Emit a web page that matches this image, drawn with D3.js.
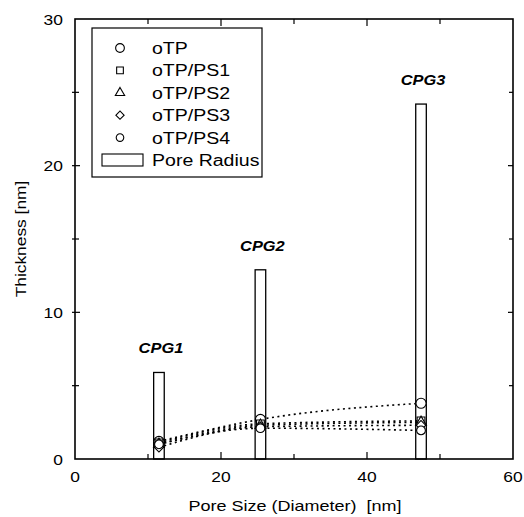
<!DOCTYPE html>
<html lang="en">
<head>
    <meta charset="UTF-8">
    <title>Thickness vs Pore Size</title>
    <script src="https://cdnjs.cloudflare.com/ajax/libs/d3/7.8.5/d3.min.js"></script>
    <style>
        body { margin: 0; background: #fff; }
        text { font-family: "Liberation Sans", Arial, sans-serif; fill: #000; }
        .series { fill: none; stroke: #000; stroke-width: 1.6px; stroke-dasharray: 2,3.5; }
        .mark { fill: #fff; stroke: #000; stroke-width: 1.1px; }
    </style>
</head>
<body>
    <div id="chart"></div>

    <script>
        // data
        const poreNames = ["CPG1", "CPG2", "CPG3"];
        const poreDiameter = [11.5, 25.4, 47.4];
        const poreRadius = [5.9, 12.9, 24.2];

        const seriesNames = ["oTP", "oTP/PS1", "oTP/PS2", "oTP/PS3", "oTP/PS4"];
        const oTP    = [1.2, 2.7, 3.8];
        const oTPPS1 = [1.1, 2.4, 2.6];
        const oTPPS2 = [1.0, 2.3, 2.5];
        const oTPPS3 = [0.8, 2.2, 2.3];
        const oTPPS4 = [1.0, 2.1, 1.95];
        const seriesValues = [oTP, oTPPS1, oTPPS2, oTPPS3, oTPPS4];
        // diamond = square turned 45 degrees
        const symbols = [d3.symbolCircle, d3.symbolSquare, d3.symbolTriangle, d3.symbolSquare, d3.symbolCircle];
        const symbolRot = [0, 0, 0, 45, 0];
        const symbolSizes = [80, 60, 50, 45, 60];

        const xTicks = [0, 20, 40, 60];
        const yTicks = [0, 10, 20, 30];

        const width = 524, height = 517;
        const margin = { left: 75, right: 11, top: 19, bottom: 58 };

        const svg = d3.select("#chart").append("svg")
            .attr("width", width)
            .attr("height", height);

        // the scanned figure is a bit wider than tall, so text gets stretched sideways
        function stretch(sel, f) {
            sel.each(function() {
                const w = this.getComputedTextLength();
                d3.select(this).attr("textLength", w * f).attr("lengthAdjust", "spacingAndGlyphs");
            });
        }

        const x = d3.scaleLinear().domain([0, 60]).range([margin.left, width - margin.right]);
        const y = d3.scaleLinear().domain([0, 30]).range([height - margin.bottom, margin.top]);
        const barW = x(1.45) - x(0);

        // pore radius bars
        svg.selectAll(".bar")
            .data(poreDiameter)
            .enter().append("rect")
            .attr("x", d => x(d) - barW / 2)
            .attr("y", (d, i) => y(poreRadius[i]))
            .attr("width", barW)
            .attr("height", (d, i) => y(0) - y(poreRadius[i]))
            .attr("fill", "#fff")
            .attr("stroke", "#000")
            .attr("stroke-width", 1.3);

        // CPG labels
        svg.selectAll(".cpg")
            .data(poreNames)
            .enter().append("text")
            .attr("x", (d, i) => x(poreDiameter[i]) + 2)
            .attr("y", (d, i) => y(poreRadius[i]) - 19)
            .attr("text-anchor", "middle")
            .style("font-size", "14.5px")
            .style("font-weight", "bold")
            .style("font-style", "italic")
            .text(d => d)
            .call(stretch, 1.13);

        // dotted lines
        const line = d3.line()
            .x((d, i) => x(poreDiameter[i]))
            .y(d => y(d))
            .curve(d3.curveMonotoneX);

        svg.selectAll(".series")
            .data(seriesValues)
            .enter().append("path")
            .attr("class", "series")
            .attr("d", line);

        // markers
        seriesValues.forEach(function(vals, s) {
            svg.selectAll(".m" + s)
                .data(vals)
                .enter().append("path")
                .attr("class", "mark")
                .attr("transform", (d, i) => "translate(" + x(poreDiameter[i]) + "," + y(d) + ") rotate(" + symbolRot[s] + ")")
                .attr("d", d3.symbol().type(symbols[s]).size(symbolSizes[s]));
        });

        // frame, ticks pointing inward
        const x0 = x(0), x1 = x(60), y0 = y(0), y1 = y(30);
        svg.append("rect")
            .attr("x", x0).attr("y", y1)
            .attr("width", x1 - x0).attr("height", y0 - y1)
            .attr("fill", "none").attr("stroke", "#000").attr("stroke-width", 1.6);

        const xMajor = xTicks.slice(1, -1), xMinor = [10, 30, 50];
        const yMajor = yTicks.slice(1, -1), yMinor = [5, 15, 25];

        function tickLines(vals, len, horizontal) {
            vals.forEach(function(v) {
                if (horizontal) {
                    svg.append("line").attr("x1", x(v)).attr("x2", x(v)).attr("y1", y0).attr("y2", y0 - len).attr("stroke", "#000").attr("stroke-width", 1.2);
                    svg.append("line").attr("x1", x(v)).attr("x2", x(v)).attr("y1", y1).attr("y2", y1 + len).attr("stroke", "#000").attr("stroke-width", 1.2);
                } else {
                    svg.append("line").attr("y1", y(v)).attr("y2", y(v)).attr("x1", x0 - 3).attr("x2", x0 + len).attr("stroke", "#000").attr("stroke-width", 1.2);
                    svg.append("line").attr("y1", y(v)).attr("y2", y(v)).attr("x1", x1).attr("x2", x1 - len).attr("stroke", "#000").attr("stroke-width", 1.2);
                }
            });
        }
        tickLines(xMajor, 7, true);
        tickLines(xMinor, 5, true);
        tickLines(yMajor, 5, false);
        tickLines(yMinor, 4, false);

        svg.selectAll(".xlab")
            .data(xTicks)
            .enter().append("text")
            .attr("x", d => x(d))
            .attr("y", y0 + 23)
            .attr("text-anchor", "middle")
            .style("font-size", "14.5px")
            .text(d => d)
            .call(stretch, 1.2);

        svg.selectAll(".ylab")
            .data(yTicks)
            .enter().append("text")
            .attr("x", x0 - 12)
            .attr("y", d => y(d) + 5.5)
            .attr("text-anchor", "end")
            .style("font-size", "14.5px")
            .text(d => d)
            .call(stretch, 1.2);

        svg.append("text")
            .attr("x", (x0 + x1) / 2 + 1)
            .attr("y", 511)
            .attr("text-anchor", "middle")
            .style("font-size", "15px")
            .style("white-space", "pre")
            .text("Pore Size (Diameter)  [nm]")
            .call(stretch, 1.2);

        svg.append("text")
            .attr("transform", "translate(26," + ((y0 + y1) / 2) + ") rotate(-90)")
            .attr("text-anchor", "middle")
            .style("font-size", "15.5px")
            .text("Thickness [nm]")
            .call(stretch, 1.12);

        // legend
        const leg = svg.append("g");
        leg.append("rect")
            .attr("x", 92).attr("y", 28)
            .attr("width", 170).attr("height", 149)
            .attr("fill", "#fff").attr("stroke", "#000").attr("stroke-width", 1.2);

        const legNames = seriesNames.concat(["Pore Radius"]);
        legNames.forEach(function(name, i) {
            const cy = 48 + i * 22.4;
            if (i < symbols.length) {
                leg.append("path")
                    .attr("class", "mark")
                    .attr("transform", "translate(120," + cy + ") rotate(" + symbolRot[i] + ")")
                    .attr("d", d3.symbol().type(symbols[i]).size(symbolSizes[i] * 0.75));
            } else {
                leg.append("rect")
                    .attr("x", 102).attr("y", cy - 6)
                    .attr("width", 41).attr("height", 12)
                    .attr("fill", "#fff").attr("stroke", "#000").attr("stroke-width", 1.1);
            }
            leg.append("text")
                .attr("x", 152)
                .attr("y", cy + 6)
                .style("font-size", "16px")
                .text(name)
                .call(stretch, 1.22);
        });
    </script>
</body>
</html>
